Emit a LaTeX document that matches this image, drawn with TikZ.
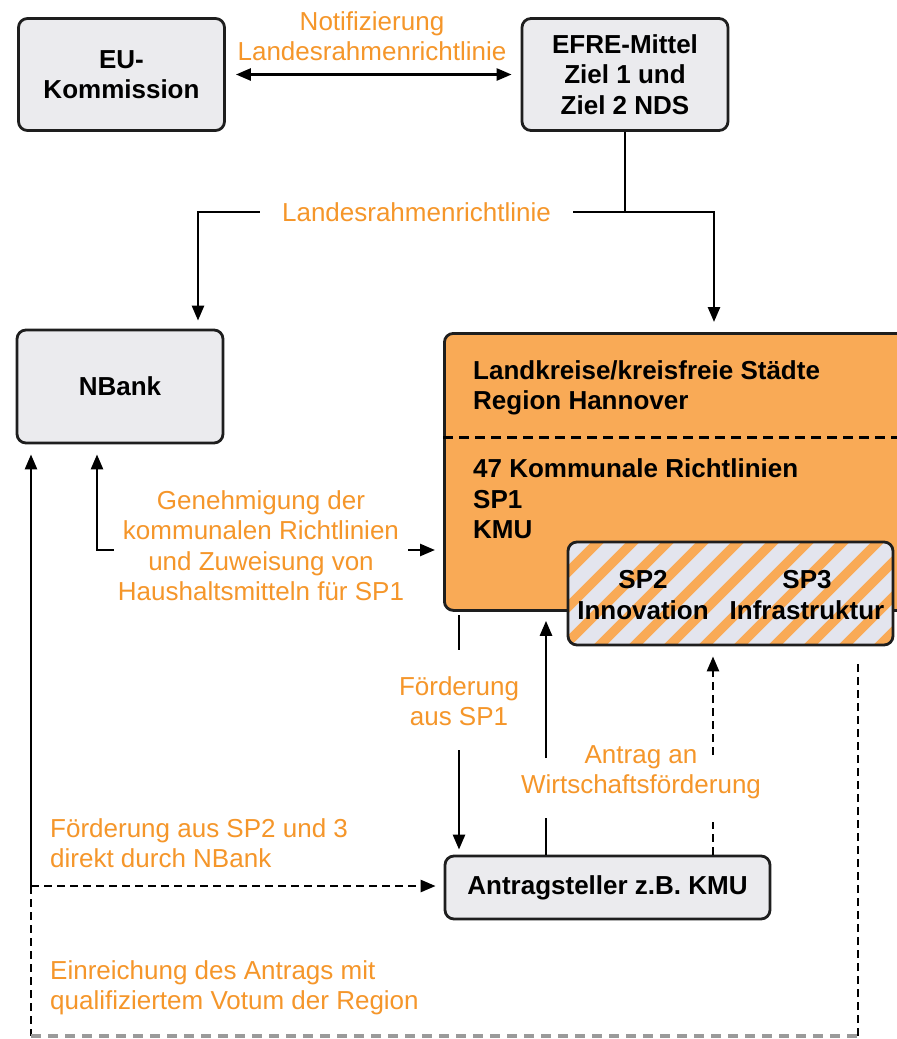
\documentclass[tikz,border=0pt]{standalone}
\usepackage{fontspec}
\setmainfont{Liberation Sans}
\usetikzlibrary{arrows.meta}
\definecolor{boxgray}{HTML}{EBEBEE}
\definecolor{kreisorange}{HTML}{F9AA56}
\definecolor{lblorange}{HTML}{F5962A}
\definecolor{stripegray}{HTML}{E3E5EE}
\definecolor{edgecol}{HTML}{1E1E1E}
\definecolor{dashgray}{HTML}{9A9A9A}
\begin{document}
\begin{tikzpicture}[x=1pt,y=-1pt,
  txt/.style={font=\fontsize{26}{30.5}\selectfont, inner sep=0pt},
  boldtxt/.style={font=\bfseries\fontsize{26}{30.5}\selectfont, inner sep=0pt},
  graybox/.style={draw=edgecol, line width=2.8pt, fill=boxgray, rounded corners=9pt,
    font=\bfseries\fontsize{26}{30.5}\selectfont, align=center, inner sep=0pt},
  lbl/.style={txt, text=lblorange, align=center},
  conn/.style={line width=2.6pt, draw=black},
  arrowend/.style={-{Triangle[length=15pt,width=12pt]}},
  dashline/.style={dash pattern=on 8pt off 5pt},
]
\fill[white] (0,0) rectangle (897,1039);
\clip (0,0) rectangle (897,1039);

% ---------- boxes ----------
\node[graybox, minimum width=206, minimum height=112] (eu) at (121.5,74.5) {EU-\\Kommission};
\node[graybox, minimum width=206, minimum height=112] (efre) at (625,74.5) {EFRE-Mittel\\Ziel 1 und\\Ziel 2 NDS};
\node[graybox, minimum width=206, minimum height=113] (nbank) at (120,386.5) {NBank};

\node[draw=edgecol, line width=2.8pt, fill=kreisorange, rounded corners=9pt,
  minimum width=470, minimum height=277, anchor=north west, inner sep=0pt] (kreis) at (443,332) {};
\draw[line width=3pt, dash pattern=on 10pt off 6pt] (kreis.west |- 0,437) -- (kreis.east |- 0,437);
\node[boldtxt, align=left, anchor=west] (kreistop) at (473,388) {Landkreise/kreisfreie Städte\\Region Hannover};
\node[boldtxt, align=left, anchor=west] (kreisbot) at (473,499) {47 Kommunale Richtlinien\\SP1\\KMU};

% hatched SP2/SP3 box
\begin{scope}
  \path[clip, rounded corners=9pt] (568,542) rectangle (893,645);
  \fill[stripegray] (568,542) rectangle (893,645);
  \foreach \i in {0,...,14} {
    \draw[kreisorange, line width=9.5pt] ({455+\i*35},650) -- ++(113,-113);
  }
\end{scope}
\node[draw=edgecol, line width=2.8pt, rounded corners=9pt, minimum width=325,
  minimum height=103, inner sep=0pt] (sp) at (730.5,593.5) {};
\node[boldtxt, align=center] (sp2) at (643,595) {SP2\\Innovation};
\node[boldtxt, align=center] (sp3) at (807,595) {SP3\\Infrastruktur};

\node[graybox, minimum width=325, minimum height=63] (antr) at (607.5,887.5) {Antragsteller z.B. KMU};

% ---------- labels ----------
\node[lbl] (notif) at (372,36) {Notifizierung\\Landesrahmenrichtlinie};
\node[lbl, inner xsep=22pt] (lrr) at (416.5,212) {Landesrahmenrichtlinie};
\node[lbl, inner xsep=4pt] (genehm) at (261,545.5) {Genehmigung der\\kommunalen Richtlinien\\und Zuweisung von\\Haushaltsmitteln für SP1};
\node[lbl] (foerd1) at (459,701) {Förderung\\aus SP1};
\node[lbl] (antrag) at (641,772) {Antrag an\\Wirtschaftsförderung};
\node[lbl, align=left, anchor=west] (foerd23) at (50,843) {Förderung aus SP2 und 3\\direkt durch NBank};
\node[lbl, align=left, anchor=west] (einr) at (50,988) {Einreichung des Antrags mit\\qualifiziertem Votum der Region};

% ---------- coordinates ----------
\coordinate (jR) at (714,212);
\coordinate (jL) at (198,212);
\coordinate (gA) at (97,550);
\coordinate (lA) at (31,886);
\coordinate (lB) at (31,1036);
\coordinate (rB) at (858,1036);
\coordinate (rT) at (858,664);
\coordinate (f1a) at (459,615);
\coordinate (f1b) at (459,650);
\coordinate (f1c) at (459,750);
\coordinate (u1) at (546,818);
\coordinate (u2) at (546,758);
\coordinate (d1) at (713,822);
\coordinate (d2) at (713,755);

% ---------- connectors ----------
\draw[conn, {Triangle[length=15pt,width=12pt]}-{Triangle[length=15pt,width=12pt]},
  shorten <=10pt, shorten >=9pt] (eu.east) -- (efre.west);

\draw[line width=1.4pt] (efre.south) -- (efre.south |- jR);
\draw[conn, arrowend, shorten >=10pt] (lrr.east) -- (jR) -- (jR |- kreis.north);
\draw[conn, arrowend, shorten >=8pt] (lrr.west) -- (jL) -- (jL |- nbank.north);

\draw[conn, arrowend, shorten >=10pt] (genehm.west |- gA) -- (gA) -- (gA |- nbank.south);
\draw[conn, arrowend, shorten >=8pt] (genehm.east |- gA) -- (gA -| kreis.west);

\draw[conn] (f1a) -- (f1b);
\draw[conn, arrowend, shorten >=5pt] (f1c) -- (f1c |- antr.north);

\draw[conn] (u1 |- antr.north) -- (u1);
\draw[conn, arrowend, shorten >=9pt] (u2) -- (u2 |- kreis.south);

\draw[conn, dashline] (d1 |- antr.north) -- (d1);
\draw[conn, dashline, arrowend, shorten >=10pt] (d2) -- (d2 |- sp.south);

\draw[conn, arrowend, shorten >=10pt] (lA) -- (lA |- nbank.south);
\draw[conn, dashline, arrowend, shorten >=8pt] (lA) -- (lA -| antr.west);
\draw[conn, dashline] (lA) -- (lB);
\draw[dashgray, line width=4.5pt, dash pattern=on 10pt off 7pt] (lB) -- (rB);
\draw[conn, dashline] (rB) -- (rT);
\end{tikzpicture}
\end{document}
